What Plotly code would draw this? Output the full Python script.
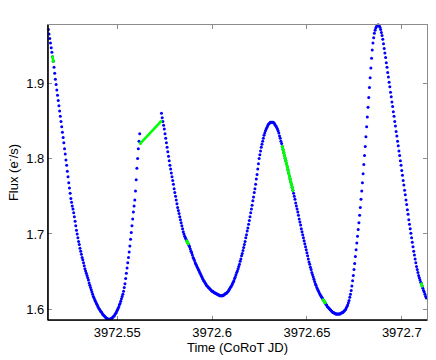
import numpy as np
import plotly.graph_objects as go

# CoRoT light curve, 32 s cadence
T0 = 3972.5137
CADENCE = 32 / 86400.0

# flux before the data gap (e-/s)
FLUX_A = [
    1.971, 1.965, 1.959, 1.953, 1.947, 1.941, 1.935, 1.929, 1.921, 1.913,
    1.905, 1.898, 1.891, 1.884, 1.877, 1.870, 1.863, 1.856, 1.849, 1.842,
    1.835, 1.828, 1.821, 1.813, 1.806, 1.798, 1.791, 1.783, 1.776, 1.768,
    1.761, 1.754, 1.747, 1.742, 1.737, 1.733, 1.728, 1.723, 1.717, 1.711,
    1.705, 1.700, 1.695, 1.690, 1.686, 1.681, 1.677, 1.673, 1.669, 1.666,
    1.662, 1.658, 1.654, 1.651, 1.648, 1.645, 1.642, 1.639, 1.635, 1.632,
    1.629, 1.626, 1.623, 1.620, 1.617, 1.615, 1.613, 1.611, 1.609, 1.607,
    1.605, 1.603, 1.601, 1.600, 1.598, 1.597, 1.596, 1.594, 1.593, 1.592,
    1.591, 1.590, 1.589, 1.588, 1.588, 1.587, 1.587, 1.587, 1.587, 1.588,
    1.588, 1.589, 1.590, 1.591, 1.592, 1.594, 1.595, 1.597, 1.599, 1.601,
    1.603, 1.606, 1.608, 1.611, 1.614, 1.617, 1.620, 1.624, 1.629, 1.634,
    1.641, 1.648, 1.655, 1.662, 1.669, 1.676, 1.684, 1.693, 1.702, 1.711,
    1.720, 1.729, 1.737, 1.745, 1.757, 1.772, 1.787, 1.800, 1.813, 1.823,
    1.833,
]
GAP_LEN = 30
# flux after the data gap
FLUX_B = [
    1.860, 1.854, 1.849, 1.844, 1.839, 1.833, 1.827, 1.821, 1.815, 1.809,
    1.803, 1.797, 1.791, 1.786, 1.781, 1.776, 1.771, 1.766, 1.760, 1.755,
    1.750, 1.745, 1.740, 1.735, 1.731, 1.727, 1.723, 1.719, 1.715, 1.711,
    1.707, 1.703, 1.700, 1.697, 1.695, 1.693, 1.691, 1.689, 1.687, 1.685,
    1.683, 1.680, 1.677, 1.675, 1.672, 1.669, 1.667, 1.665, 1.662, 1.660,
    1.658, 1.656, 1.654, 1.652, 1.650, 1.648, 1.646, 1.644, 1.642, 1.640,
    1.638, 1.637, 1.635, 1.634, 1.632, 1.631, 1.630, 1.629, 1.628, 1.627,
    1.626, 1.625, 1.624, 1.624, 1.623, 1.622, 1.622, 1.621, 1.621, 1.620,
    1.620, 1.619, 1.619, 1.618, 1.618, 1.618, 1.618, 1.618, 1.619, 1.619,
    1.620, 1.621, 1.621, 1.622, 1.623, 1.624, 1.626, 1.627, 1.629, 1.630,
    1.632, 1.634, 1.636, 1.638, 1.641, 1.643, 1.646, 1.649, 1.651, 1.654,
    1.657, 1.660, 1.664, 1.667, 1.671, 1.674, 1.678, 1.682, 1.686, 1.690,
    1.695, 1.699, 1.704, 1.708, 1.713, 1.718, 1.723, 1.728, 1.733, 1.738,
    1.744, 1.749, 1.755, 1.760, 1.766, 1.773, 1.779, 1.786, 1.793, 1.800,
    1.805, 1.810, 1.815, 1.819, 1.823, 1.827, 1.831, 1.834, 1.837, 1.839,
    1.841, 1.843, 1.845, 1.846, 1.847, 1.848, 1.848, 1.848, 1.848, 1.848,
    1.847, 1.846, 1.844, 1.843, 1.841, 1.839, 1.837, 1.834, 1.830, 1.827,
    1.823, 1.820, 1.816, 1.812, 1.808, 1.804, 1.800, 1.797, 1.793, 1.789,
    1.785, 1.781, 1.777, 1.773, 1.769, 1.766, 1.762, 1.758, 1.754, 1.750,
    1.746, 1.741, 1.737, 1.733, 1.729, 1.725, 1.720, 1.716, 1.712, 1.707,
    1.703, 1.699, 1.695, 1.691, 1.687, 1.683, 1.679, 1.675, 1.671, 1.667,
    1.663, 1.660, 1.656, 1.653, 1.649, 1.646, 1.643, 1.640, 1.637, 1.634,
    1.632, 1.629, 1.627, 1.625, 1.623, 1.621, 1.619, 1.618, 1.616, 1.615,
    1.613, 1.612, 1.610, 1.609, 1.607, 1.606, 1.604, 1.603, 1.602, 1.601,
    1.600, 1.599, 1.598, 1.597, 1.596, 1.596, 1.595, 1.595, 1.594, 1.594,
    1.594, 1.594, 1.594, 1.594, 1.594, 1.595, 1.595, 1.596, 1.596, 1.597,
    1.598, 1.599, 1.600, 1.602, 1.604, 1.606, 1.609, 1.612, 1.616, 1.620,
    1.625, 1.631, 1.638, 1.645, 1.653, 1.661, 1.670, 1.679, 1.688, 1.697,
    1.706, 1.715, 1.725, 1.735, 1.746, 1.757, 1.768, 1.780, 1.792, 1.804,
    1.816, 1.829, 1.842, 1.855, 1.868, 1.881, 1.894, 1.907, 1.920, 1.933,
    1.944, 1.953, 1.960, 1.966, 1.970, 1.973, 1.975, 1.976, 1.977, 1.977,
    1.976, 1.974, 1.971, 1.967, 1.963, 1.958, 1.952, 1.946, 1.940, 1.934,
    1.927, 1.921, 1.914, 1.908, 1.901, 1.895, 1.888, 1.882, 1.875, 1.869,
    1.862, 1.856, 1.849, 1.843, 1.836, 1.830, 1.823, 1.817, 1.810, 1.804,
    1.797, 1.791, 1.784, 1.778, 1.771, 1.765, 1.758, 1.752, 1.745, 1.739,
    1.732, 1.726, 1.719, 1.713, 1.707, 1.701, 1.695, 1.689, 1.683, 1.677,
    1.672, 1.667, 1.662, 1.657, 1.653, 1.649, 1.645, 1.642, 1.639, 1.636,
    1.634, 1.631, 1.628, 1.625, 1.623, 1.620, 1.617, 1.615, 1.612,
]
# straight fill across the gap (first/last flux)
GAP_FLUX = [1.820, 1.849]
# flagged samples (index ranges, inclusive)
GREEN_RANGES = [(6, 7), (197, 199), (333, 348), (391, 394), (531, 532)]

X_TICKS = [3972.55, 3972.6, 3972.65, 3972.7]
X_LABELS = ["3972.55", "3972.6", "3972.65", "3972.7"]
Y_TICKS = [1.6, 1.7, 1.8, 1.9]
Y_LABELS = ["1.6", "1.7", "1.8", "1.9"]

BLUE = "#0000ff"
GREEN = "#00ff00"
GREY = "#8c8c8c"

flux = FLUX_A + [None] * GAP_LEN + FLUX_B
time = T0 + CADENCE * np.arange(len(flux))

gx, gy = [], []
g0 = len(FLUX_A)
gx += [time[g0], time[g0 + GAP_LEN - 1], None]
gy += [GAP_FLUX[0], GAP_FLUX[1], None]
for a, b in GREEN_RANGES:
    for i in range(a, b + 1):
        gx.append(time[i])
        gy.append(flux[i])
    gx.append(None)
    gy.append(None)

fig = go.Figure()
fig.add_trace(go.Scatter(
    x=time, y=flux, mode="markers",
    marker=dict(color=BLUE, size=3),
    cliponaxis=False, showlegend=False,
))
fig.add_trace(go.Scatter(
    x=gx, y=gy, mode="lines+markers",
    line=dict(color=GREEN, width=2.6),
    marker=dict(color=GREEN, size=3),
    connectgaps=False, cliponaxis=False, showlegend=False,
))

axis_common = dict(
    showgrid=False, zeroline=False,
    showline=True, linecolor=GREY, linewidth=1.3, mirror="ticks",
    ticks="inside", ticklen=4, tickcolor=GREY, tickwidth=1,
    tickfont=dict(family="Liberation Sans, Arial", size=13, color="black"),
)

fig.update_layout(
    width=436, height=360,
    margin=dict(l=48, r=8, t=25, b=35),
    paper_bgcolor="white", plot_bgcolor="white",
    font=dict(family="Liberation Sans, Arial", size=13, color="black"),
    xaxis=dict(
        range=[3972.5135, 3972.7133],
        tickvals=X_TICKS, ticktext=X_LABELS,
        title=dict(text="Time (CoRoT JD)", standoff=3, font=dict(size=13)),
        **axis_common,
    ),
    yaxis=dict(
        range=[1.586, 1.977],
        tickvals=Y_TICKS, ticktext=Y_LABELS,
        title=dict(text="Flux (e<sup>-</sup>/s)", standoff=4, font=dict(size=13)),
        **axis_common,
    ),
)

# darker left and bottom axis lines
fig.add_shape(type="line", xref="paper", yref="paper", x0=0, y0=0, x1=1, y1=0,
              line=dict(color="black", width=1.6), layer="above")
fig.add_shape(type="line", xref="paper", yref="paper", x0=0, y0=0, x1=0, y1=1,
              line=dict(color="black", width=1.6), layer="above")

# drop the default page margin so the figure sits at the window's corner
fig.write_html("out.html", config={"displayModeBar": False},
               post_script="document.body.style.margin='0';")
